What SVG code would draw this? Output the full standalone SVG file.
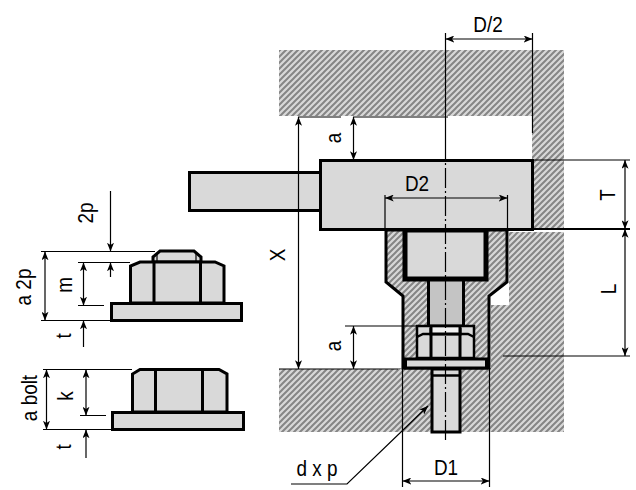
<svg xmlns="http://www.w3.org/2000/svg" width="636" height="490" viewBox="0 0 636 490">
<style>
text{font-family:"Liberation Sans",Arial,sans-serif;font-size:22px;fill:#000;text-anchor:middle}
.p{fill:#d9d9d9;stroke:#000;stroke-width:3;stroke-linejoin:miter}
.d{fill:none;stroke:#000;stroke-width:1.2}
.a{marker-start:url(#ar);marker-end:url(#ar)}
.e{marker-end:url(#ar)}
.h{fill:url(#hatch);stroke:none}
.k{fill:none;stroke:#000;stroke-width:3}
.c{fill:none;stroke:#000;stroke-width:1.2;stroke-dasharray:20 3 2 3}
</style>
<defs>
<pattern id="hatch" patternUnits="userSpaceOnUse" width="6" height="6">
<rect width="6" height="6" fill="#d8d8d8"/>
<path d="M-1.500 1.500L1.500 -1.500M-1.500 7.500L7.500 -1.500M4.500 7.500L7.500 4.500" stroke="#858585" stroke-width="2"/>
</pattern>
<marker id="ar" viewBox="0 0 10 8" refX="10" refY="4" markerWidth="9" markerHeight="7" markerUnits="userSpaceOnUse" orient="auto-start-reverse">
<path d="M0 0L10 4L0 8L2.500 4Z" fill="#000"/>
</marker>
</defs>
<g id="walls">
<path class="h" d="M279 50H564V229H532V116H279Z"/>
<path class="h" d="M509 232H564V432H279V369H398V368H491V305H509Z"/>
</g>
<g id="adapter">
<path d="M386 230H507V282L489 296V368H403V296L386 282Z" fill="url(#hatch)" stroke="#000" stroke-width="3"/>
<rect x="405" y="230" width="81" height="49" class="p" style="stroke-width:5"/>
<rect x="428.500" y="280" width="35" height="46" fill="#c4c4c4" stroke="#000" stroke-width="3"/>
</g>
<g id="inner-nut">
<rect x="417" y="326" width="57" height="32" fill="#d9d9d9" stroke="#000" stroke-width="2.500"/>
<path d="M417 337L423 334H468L474 337" class="k" style="stroke-width:2.500"/>
<path d="M431 358V327M460 358V327" class="k"/>
<path d="M431 328V334H460V328" fill="#f2f2f2" stroke="#000" stroke-width="3"/>
<rect x="405.500" y="359" width="81" height="9" class="p"/>
</g>
<g id="bolt">
<rect x="432" y="369" width="28" height="63" class="p"/>
<path d="M432 375.500H460" class="k" style="stroke-width:2.500"/>
</g>
<g id="body">
<rect x="189.500" y="172.500" width="131" height="38" class="p"/>
<rect x="320.500" y="160.500" width="212" height="69" class="p"/>
</g>
<g id="nut-2p">
<path class="p" d="M153 262V257L160 251H194L201 257V262Z"/>
<path class="d" d="M157 254V262M196 254V262"/>
<rect x="111.500" y="303.500" width="130" height="17" class="p"/>
<path class="p" d="M130.500 303V266L140 262H215L224 266V303Z"/>
<path class="k" d="M154 262V303M200.500 262V303"/>
</g>
<g id="nut-bolt">
<rect x="112.500" y="412.500" width="131" height="17" class="p"/>
<path class="p" d="M132.500 412V374L140 369.500H219L227 374V412Z"/>
<path class="k" d="M155.500 370V412M202.500 370V412"/>
</g>
<g id="connectors">
<path class="c" d="M445.500 140V442"/>
<path class="d" d="M445.500 33V140M532.500 33V133"/>
<path class="d a" d="M445.500 39H532.500"/>
<path class="d" d="M298 117H341M353 117H448"/>
<path class="d a" d="M353.500 117V160"/>
<path class="d a" d="M298.500 117V369"/>
<path class="d" d="M533 160H630M503 356H630"/>
<path class="d" style="stroke-width:2" d="M507 229H630"/>
<path class="d a" d="M625 160V229"/>
<path class="d a" d="M625 229V356"/>
<path class="d" d="M385 195V230M507.500 195V230"/>
<path class="d a" d="M385 198H507.500"/>
<path class="d" d="M345 326H417M279 369H398"/>
<path class="d a" d="M353.500 326V369"/>
<path class="d" d="M402.500 350V487M489.500 368V487"/>
<path class="d a" d="M402.500 481H489.500"/>
<path class="d e" d="M291 484H347L428 406"/>
<path class="d" d="M41 251.500H155M41 320.500H111M78 262.500H130M78 305.500H104"/>
<path class="d a" d="M45 251.500V320.500"/>
<path class="d a" d="M83.500 262.500V305.500"/>
<path class="d e" d="M83.500 347V320.500"/>
<path class="d e" d="M110.500 191V251.500"/>
<path class="d e" d="M110.500 277V262.500"/>
<path class="d" d="M43 369.500H132M43 429.500H112M80 415.500H106"/>
<path class="d a" d="M46.500 369.500V429.500"/>
<path class="d a" d="M86 369.500V415.500"/>
<path class="d e" d="M86 458V429.500"/>
</g>
<g id="labels">
<text transform="translate(488 32) scale(.86 1)">D/2</text>
<text transform="translate(417 191) scale(.86 1)">D2</text>
<text transform="translate(446 475) scale(.86 1)">D1</text>
<text transform="translate(317 476) scale(.86 1)">d x p</text>
<text transform="translate(341 138) rotate(-90) scale(.86 1)">a</text>
<text transform="translate(341 346) rotate(-90) scale(.86 1)">a</text>
<text transform="translate(285 255) rotate(-90) scale(.86 1)">X</text>
<text transform="translate(615 195) rotate(-90) scale(.86 1)">T</text>
<text transform="translate(616 289) rotate(-90) scale(.86 1)">L</text>
<text transform="translate(93 213) rotate(-90) scale(.86 1)">2p</text>
<text transform="translate(31 287) rotate(-90) scale(.86 1)">a 2p</text>
<text transform="translate(72 285) rotate(-90) scale(.86 1)">m</text>
<text transform="translate(71 336) rotate(-90) scale(.86 1)">t</text>
<text transform="translate(37 398) rotate(-90) scale(.86 1)">a bolt</text>
<text transform="translate(73 396) rotate(-90) scale(.86 1)">k</text>
<text transform="translate(71 447) rotate(-90) scale(.86 1)">t</text>
</g>
</svg>
